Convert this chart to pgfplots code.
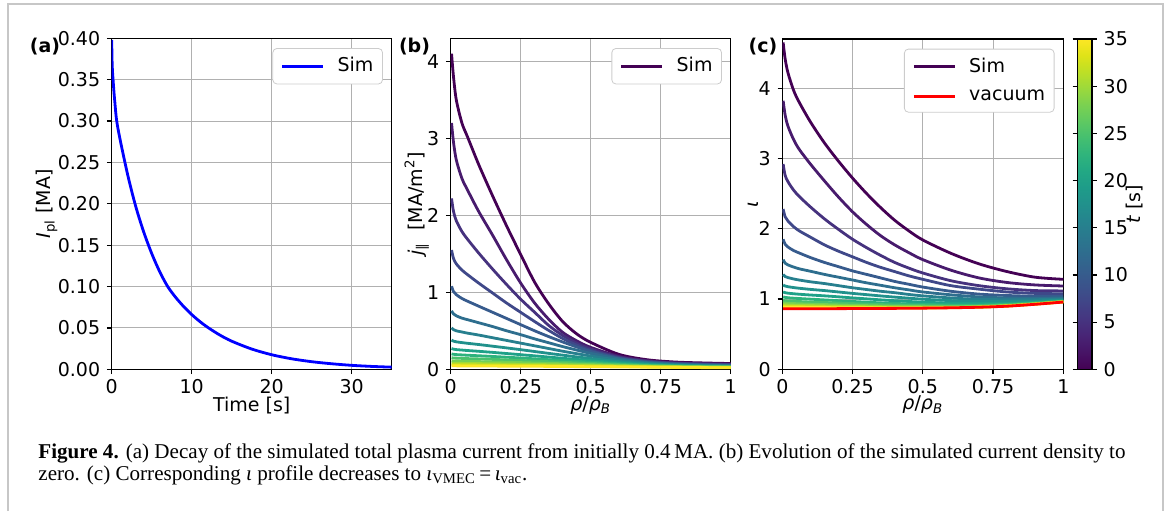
\documentclass[border=0pt]{standalone}
\usepackage{pgfplots}
\pgfplotsset{compat=1.18}
\usepackage{pgfplotstable}
\usepackage{fontspec}
\setmainfont{DejaVu Sans}
\newfontfamily\capfont{Liberation Serif}
\definecolor{gridc}{RGB}{176,176,176}
\definecolor{v1}{RGB}{68,1,84}
\definecolor{v2}{RGB}{72,27,109}
\definecolor{v3}{RGB}{70,50,126}
\definecolor{v4}{RGB}{63,72,137}
\definecolor{v5}{RGB}{55,91,141}
\definecolor{v6}{RGB}{46,110,142}
\definecolor{v7}{RGB}{39,127,142}
\definecolor{v8}{RGB}{33,145,140}
\definecolor{v9}{RGB}{31,161,136}
\definecolor{v10}{RGB}{45,178,125}
\definecolor{v11}{RGB}{74,193,109}
\definecolor{v12}{RGB}{115,208,86}
\definecolor{v13}{RGB}{160,218,57}
\definecolor{v14}{RGB}{208,225,28}
\definecolor{v15}{RGB}{253,231,37}

\pgfplotstableread{
t I
0.0 0.398
0.05 0.372
0.1 0.360
0.2 0.346
0.3 0.333
0.4 0.322
0.6 0.302
1.0 0.280
2.0 0.235
3.0 0.197
4.0 0.166
5.0 0.140
6.0 0.118
7.0 0.100
8.0 0.0869
9.0 0.0758
10 0.0662
11 0.0579
12 0.0507
13.5 0.0415
15 0.0340
17.5 0.0245
20 0.0176
22.5 0.0127
25 0.0092
27.5 0.0067
30 0.0048
32.5 0.0035
35 0.0026
}\ipltab

\pgfplotstableread{
rho c1 c2 c3 c4 c5 c6 c7 c8 c9 c10 c11 c12 c13 c14 c15
0.003 4.1 3.2 2.22 1.55 1.08 0.76 0.54 0.38 0.27 0.2 0.15 0.11 0.08 0.06 0.045
0.01 3.8 2.95 2.05 1.44 1.01 0.72 0.515 0.366 0.262 0.195 0.147 0.108 0.079 0.06 0.045
0.02 3.5 2.72 1.93 1.37 0.97 0.695 0.50 0.357 0.256 0.191 0.145 0.107 0.078 0.059 0.045
0.04 3.2 2.48 1.79 1.29 0.92 0.665 0.485 0.347 0.25 0.187 0.142 0.105 0.077 0.058 0.044
0.06 3.02 2.33 1.69 1.23 0.885 0.645 0.47 0.338 0.244 0.183 0.139 0.103 0.076 0.058 0.044
0.1 2.66 2.05 1.51 1.12 0.82 0.605 0.445 0.322 0.234 0.176 0.135 0.1 0.074 0.057 0.043
0.15 2.25 1.74 1.30 0.99 0.74 0.555 0.41 0.3 0.22 0.167 0.129 0.096 0.072 0.055 0.042
0.2 1.86 1.42 1.10 0.86 0.66 0.50 0.375 0.278 0.205 0.157 0.122 0.092 0.069 0.053 0.041
0.25 1.49 1.12 0.91 0.74 0.58 0.45 0.34 0.255 0.19 0.147 0.115 0.087 0.066 0.051 0.04
0.3 1.13 0.86 0.74 0.62 0.50 0.395 0.305 0.231 0.175 0.136 0.107 0.082 0.063 0.049 0.039
0.35 0.85 0.65 0.57 0.505 0.425 0.345 0.27 0.207 0.159 0.125 0.099 0.077 0.06 0.047 0.038
0.4 0.62 0.48 0.44 0.40 0.355 0.295 0.235 0.184 0.143 0.114 0.091 0.072 0.057 0.045 0.036
0.45 0.46 0.37 0.34 0.315 0.29 0.25 0.203 0.161 0.128 0.103 0.084 0.067 0.053 0.043 0.035
0.5 0.35 0.285 0.265 0.245 0.232 0.207 0.173 0.14 0.113 0.093 0.077 0.062 0.05 0.041 0.034
0.6 0.195 0.17 0.16 0.15 0.142 0.135 0.118 0.1 0.085 0.072 0.061 0.051 0.043 0.037 0.031
0.7 0.125 0.112 0.106 0.1 0.093 0.088 0.08 0.071 0.062 0.055 0.048 0.042 0.036 0.032 0.028
0.8 0.095 0.085 0.08 0.076 0.071 0.066 0.06 0.054 0.049 0.044 0.04 0.036 0.032 0.029 0.025
0.9 0.083 0.073 0.069 0.064 0.059 0.054 0.049 0.045 0.041 0.037 0.034 0.031 0.028 0.025 0.022
1.0 0.075 0.066 0.062 0.057 0.052 0.047 0.043 0.039 0.036 0.033 0.03 0.028 0.025 0.023 0.02
}\jtab

\pgfplotstableread{
rho c1 c2 c3 c4 c5 c6 c7 c8 c9 c10 c11 c12 c13 c14 c15 vac
0.003 4.65 3.82 2.92 2.28 1.85 1.56 1.35 1.20 1.10 1.03 0.98 0.945 0.92 0.90 0.885 0.862
0.01 4.42 3.62 2.76 2.17 1.78 1.51 1.32 1.185 1.09 1.023 0.976 0.942 0.918 0.899 0.884 0.862
0.02 4.22 3.46 2.67 2.11 1.74 1.485 1.305 1.175 1.083 1.018 0.972 0.939 0.916 0.897 0.883 0.862
0.04 3.97 3.27 2.55 2.03 1.69 1.455 1.285 1.163 1.075 1.012 0.968 0.935 0.913 0.895 0.882 0.862
0.06 3.80 3.13 2.46 1.97 1.655 1.43 1.27 1.153 1.068 1.007 0.964 0.932 0.911 0.893 0.881 0.862
0.1 3.52 2.92 2.31 1.88 1.59 1.395 1.245 1.137 1.057 0.998 0.957 0.927 0.907 0.89 0.88 0.862
0.15 3.22 2.68 2.14 1.77 1.52 1.35 1.22 1.12 1.045 0.987 0.95 0.921 0.902 0.888 0.878 0.862
0.2 2.96 2.45 1.99 1.68 1.46 1.31 1.19 1.10 1.031 0.976 0.943 0.916 0.898 0.885 0.876 0.863
0.25 2.72 2.24 1.85 1.60 1.40 1.27 1.16 1.08 1.016 0.965 0.935 0.911 0.894 0.882 0.875 0.864
0.3 2.50 2.06 1.73 1.52 1.35 1.23 1.135 1.062 1.002 0.955 0.928 0.906 0.891 0.88 0.874 0.865
0.35 2.30 1.90 1.62 1.45 1.30 1.195 1.11 1.044 0.988 0.945 0.921 0.901 0.888 0.878 0.873 0.866
0.4 2.12 1.77 1.52 1.39 1.25 1.16 1.09 1.027 0.976 0.937 0.915 0.897 0.885 0.877 0.872 0.867
0.45 1.97 1.66 1.44 1.33 1.21 1.13 1.065 1.012 0.965 0.93 0.91 0.894 0.883 0.876 0.872 0.868
0.5 1.84 1.56 1.37 1.28 1.17 1.10 1.045 0.997 0.955 0.924 0.906 0.891 0.882 0.876 0.873 0.87
0.6 1.65 1.41 1.26 1.19 1.11 1.06 1.015 0.977 0.941 0.916 0.901 0.889 0.882 0.878 0.876 0.875
0.7 1.50 1.30 1.19 1.14 1.07 1.03 0.995 0.966 0.936 0.915 0.902 0.893 0.888 0.885 0.883 0.883
0.8 1.39 1.235 1.145 1.10 1.05 1.015 0.99 0.965 0.94 0.925 0.915 0.908 0.904 0.901 0.9 0.898
0.9 1.31 1.20 1.12 1.08 1.04 1.01 0.99 0.97 0.955 0.945 0.938 0.933 0.93 0.928 0.927 0.925
1.0 1.28 1.185 1.115 1.075 1.04 1.015 1.0 0.985 0.975 0.97 0.966 0.963 0.961 0.96 0.959 0.957
}\iotatab

\newcommand\fs{\fontsize{9.5}{11}\selectfont}

\pgfplotsset{
  colormap={vir}{rgb255=(68,1,84) rgb255=(71,19,101) rgb255=(72,36,117) rgb255=(70,52,128) rgb255=(65,68,135) rgb255=(59,82,139) rgb255=(53,95,141) rgb255=(47,108,142) rgb255=(42,120,142) rgb255=(37,132,142) rgb255=(33,145,140) rgb255=(30,156,137) rgb255=(34,168,132) rgb255=(47,180,124) rgb255=(68,191,112) rgb255=(94,201,98) rgb255=(122,209,81) rgb255=(155,217,60) rgb255=(189,223,38) rgb255=(223,227,24) rgb255=(253,231,37)},
  myax/.style={
    scale only axis, width=140pt, height=165.5pt, anchor=south west,
    axis line style={line width=0.6pt},
    grid=major, grid style={gridc, line width=0.5pt},
    tick align=outside, major tick length=2.4pt,
    tick style={black, line width=0.6pt},
    xtick pos=lower, ytick pos=left,
    tick label style={font=\fs},
    xticklabel style={inner sep=1pt, yshift=-1.5pt},
    yticklabel style={inner sep=1pt, xshift=-2.2pt},
    label style={font=\fs, inner sep=0pt},
    /pgf/number format/assume math mode=true,
    scaled ticks=false,
    xlabel style={at={(axis description cs:0.5,-0.108)}, anchor=center},
    legend style={at={(1,1)}, anchor=north east, xshift=-4.4pt, yshift=-4.9pt,
      draw=black!20, rounded corners=2pt, font=\fs, inner xsep=2.5pt, inner ysep=2.5pt,
      row sep=3pt},
    legend cell align=left,
    legend image code/.code={\path (-1.5pt,0pt) (25pt,0pt); \draw[##1, line width=1.4pt] (0pt,0pt) -- (20.5pt,0pt);},
  },
  cl/.style={line width=1.4pt, smooth, tension=0.5},
}

\begin{document}
\begin{tikzpicture}
\path[use as bounding box] (0,0) rectangle (583.5pt,255.5pt);
\draw[line width=0.75pt, black!22] (4pt,0) -- (4pt,253.5pt) -- (581.5pt,253.5pt) -- (581.5pt,0);

% (a)
\begin{axis}[myax, at={(55.85pt,70.85pt)},
  xmin=0, xmax=35, ymin=0, ymax=0.4,
  xtick={0,10,20,30},
  ytick={0,0.05,0.1,0.15,0.2,0.25,0.3,0.35,0.4},
  yticklabel style={/pgf/number format/.cd, fixed, fixed zerofill, precision=2},
  xlabel={Time [s]},
  ylabel={\textit{I}\textsubscript{pl} [MA]},
  ylabel style={at={(axis description cs:-0.232,0.5)}, anchor=center},
]
\addplot[blue, cl] table[x=t,y=I]{\ipltab};
\addlegendentry{Sim}
\end{axis}

% (b)
\begin{axis}[myax, at={(225.35pt,70.85pt)},
  xmin=0, xmax=1, ymin=0, ymax=4.3,
  xtick={0,0.25,0.5,0.75,1}, xticklabels={0,0.25,0.5,0.75,1},
  ytick={0,1,2,3,4},
  xlabel={\textit{ρ}/\textit{ρ}\textsubscript{\textit{B}}},
  ylabel={\textit{j}\textsubscript{∥}\ \ [MA/m\textsuperscript{2}]},
  ylabel style={at={(axis description cs:-0.121,0.5)}, anchor=center},
]
\addplot[v1, cl] table[x=rho,y=c1]{\jtab};
\addlegendentry{Sim}
\pgfplotsinvokeforeach{2,...,15}{
  \addplot[v#1, cl, forget plot] table[x=rho,y=c#1]{\jtab};
}
\end{axis}

% (c)
\begin{axis}[myax, at={(391.15pt,70.85pt)}, width=140.5pt, height=165.2pt,
  xmin=0, xmax=1, ymin=0, ymax=4.7,
  xtick={0,0.25,0.5,0.75,1}, xticklabels={0,0.25,0.5,0.75,1},
  ytick={0,1,2,3,4},
  xlabel={\textit{ρ}/\textit{ρ}\textsubscript{\textit{B}}},
  ylabel={\textit{ι}},
  ylabel style={at={(axis description cs:-0.104,0.5)}, anchor=center},
  colorbar, colormap name=vir, point meta min=0, point meta max=35,
  colorbar style={width=7.35pt, at={(parent axis.north east)}, anchor=north west, xshift=-1.5pt,
    ytick={0,5,10,15,20,25,30,35}, tick align=outside, major tick length=2.4pt,
    tick style={black, line width=0.6pt}, axis line style={line width=0.6pt},
    yticklabel style={font=\fs, inner sep=1pt, xshift=2.2pt}, 
    /pgf/number format/assume math mode=true,
    ylabel={\textit{t} [s]},
    every axis y label/.style={at={(axis description cs:3.9,0.5)}, anchor=center, rotate=90, font=\fs, inner sep=0pt}},
]
\addplot[v1, cl] table[x=rho,y=c1]{\iotatab};
\addlegendentry{Sim}
\pgfplotsinvokeforeach{2,...,15}{
  \addplot[v#1, cl, forget plot] table[x=rho,y=c#1]{\iotatab};
}
\addplot[red, cl] table[x=rho,y=vac]{\iotatab};
\addlegendentry{vacuum}
\end{axis}

\node[font=\bfseries\fs, inner sep=0pt] at (22.5pt,232.15pt) {(a)};
\node[font=\bfseries\fs, inner sep=0pt] at (207.25pt,232.15pt) {(b)};
\node[font=\bfseries\fs, inner sep=0pt] at (381.5pt,232.15pt) {(c)};

\node[anchor=north west, inner sep=0pt] at (19pt,34pt) {\resizebox{543.5pt}{!}{\capfont\fontsize{10}{10.3}\selectfont
\begin{tabular}{@{}l@{}}
\textbf{Figure 4.} (a) Decay of the simulated total plasma current from initially 0.4\,MA. (b) Evolution of the simulated current density to\\
zero. (c) Corresponding \textit{ι} profile decreases to \textit{ι}\textsubscript{VMEC}\,=\,\textit{ι}\textsubscript{vac}.
\end{tabular}}};
\end{tikzpicture}
\end{document}
